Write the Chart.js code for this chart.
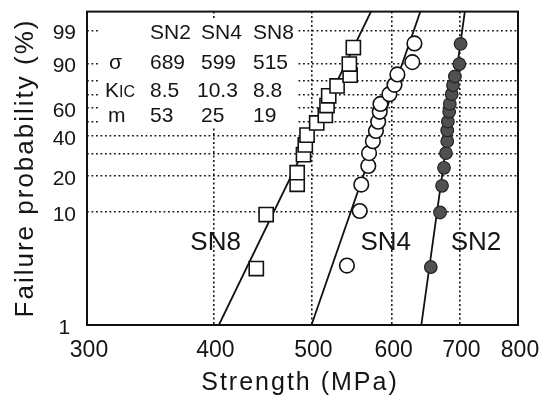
<!DOCTYPE html>
<html><head><meta charset="utf-8">
<script src="https://cdn.jsdelivr.net/npm/chart.js@4.4.1/dist/chart.umd.min.js"></script>
<style>html,body{margin:0;padding:0;background:#fff;}</style>
</head><body>
<canvas id="c" width="545" height="398"></canvas>
<script>
// ---------- data ----------
const seriesNames = ['SN2', 'SN4', 'SN8'];
const sn2Strength = [656, 670, 673, 676, 679, 681, 681, 682, 684, 685, 688, 690, 693, 700, 702];
const sn2Prob     = [3.3, 9.9, 16.6, 23.2, 30.1, 36.8, 43.7, 49.8, 57.1, 63.1, 70.5, 77.0, 82.9, 89.8, 96.9];
const sn4Strength = [542, 558, 560, 569, 570, 575, 579, 582, 584, 585, 597, 604, 608, 629, 632];
const sn4Prob     = [3.4, 10.2, 17.0, 24.0, 30.1, 36.8, 43.3, 49.8, 57.1, 63.1, 70.5, 77.3, 84.1, 90.7, 97.0];
const sn8Strength = [441, 451, 484, 484, 491, 493, 495, 506, 516, 518, 520, 530, 546, 545, 550];
const sn8Prob     = [3.2, 9.5, 17.1, 21.2, 29.3, 34.6, 40.6, 48.9, 54.4, 61.8, 69.3, 76.5, 83.7, 89.8, 96.0];
// Weibull fit lines: strength at the two probabilities in fitProb
const fitProb  = [1, 99.9];
const sn2Fit   = [642, 709];
const sn4Fit   = [500, 641];
const sn8Fit   = [405, 573];
// axis ticks
const strengthTicks = [300, 400, 500, 600, 700, 800];
const probTicks  = [1, 10, 20, 30, 40, 50, 60, 70, 80, 90, 99];
const probLabels = ['1', '10', '20', '', '40', '', '60', '', '', '90', '99'];
// property table
const tableHead = ['SN2', 'SN4', 'SN8'];
const sigmaVals = ['689', '599', '515'];
const kicVals   = ['8.5', '10.3', '8.8'];
const mVals     = ['53', '25', '19'];

// ---------- helpers ----------
const W = p => Math.log(-Math.log(1 - p / 100));
const pts = (xs, ps) => xs.map((x, i) => ({x: x, y: W(ps[i])}));
const FONT = '"Liberation Sans", Arial, Helvetica, sans-serif';
const INK = '#151515';

const gridCommon = {color: '#1a1a1a', lineWidth: 1.6, drawTicks: false};
const borderCommon = {display: false, dash: [1.8, 2.7]};

const deco = {
  id: 'deco',
  beforeDatasetsDraw(chart) {
    const c = chart.ctx;
    c.save();
    c.fillStyle = '#fff';
    c.fillRect(99, 20, 198, 106);
    c.fillStyle = INK;
    c.textBaseline = 'alphabetic';
    c.textAlign = 'left';
    c.font = '21px ' + FONT;
    const colX = [150, 201, 253];
    const rowY = [39, 69, 97, 122];
    tableHead.forEach((t, i) => c.fillText(t, colX[i], rowY[0]));
    sigmaVals.forEach((t, i) => c.fillText(t, colX[i] - (t.length > 3 ? 4 : 0), rowY[1]));
    kicVals.forEach((t, i) => c.fillText(t, colX[i] - (t.length > 3 ? 4 : 0), rowY[2]));
    mVals.forEach((t, i) => c.fillText(t, colX[i], rowY[3]));
    c.fillText('\u03c3', 109, rowY[1]);
    c.fillText('K', 105, rowY[2]);
    const kw = c.measureText('K').width;
    c.font = '16px ' + FONT;
    c.fillText('IC', 105 + kw, rowY[2]);
    c.font = '21px ' + FONT;
    c.fillText('m', 108, rowY[3]);
    c.restore();
  },
  afterDraw(chart) {
    const c = chart.ctx, a = chart.chartArea;
    const xs = chart.scales.x, ys = chart.scales.y;
    c.save();
    // frame
    c.strokeStyle = '#111';
    c.lineWidth = 2;
    c.strokeRect(a.left, a.top, a.right - a.left, a.bottom - a.top);
    // series labels
    c.fillStyle = INK;
    c.font = '26px ' + FONT;
    c.textAlign = 'center';
    c.textBaseline = 'middle';
    const labelAt = {SN8: [402, 5.35], SN4: [592, 5.35], SN2: [727, 5.35]};
    seriesNames.forEach(n => {
      c.fillText(n, xs.getPixelForValue(labelAt[n][0]), ys.getPixelForValue(W(labelAt[n][1])));
    });
    // axis titles
    c.textBaseline = 'alphabetic';
    try { c.letterSpacing = '2px'; } catch (e) {}
    c.font = '25px ' + FONT;
    c.fillText('Strength (MPa)', 300, 390);
    c.translate(33, 168);
    c.rotate(-Math.PI / 2);
    c.font = '26px ' + FONT;
    c.fillText('Failure probability (%)', 0, 0);
    c.restore();
  }
};

new Chart(document.getElementById('c').getContext('2d'), {
  type: 'scatter',
  data: {
    datasets: [
      {label: 'SN8', data: pts(sn8Strength, sn8Prob), pointStyle: 'rect', pointRadius: 10,
       borderColor: '#111', backgroundColor: '#fff', borderWidth: 1.6, order: 0},
      {label: 'SN4', data: pts(sn4Strength, sn4Prob), pointStyle: 'circle', pointRadius: 7.3,
       borderColor: '#111', backgroundColor: '#fff', borderWidth: 1.6, order: 0},
      {label: 'SN2', data: pts(sn2Strength, sn2Prob), pointStyle: 'circle', pointRadius: 6.3,
       borderColor: '#222', backgroundColor: '#505050', borderWidth: 1.2, order: 0},
      {label: 'SN8 fit', data: pts(sn8Fit, fitProb), showLine: true, pointRadius: 0,
       borderColor: '#111', borderWidth: 1.8, order: 1},
      {label: 'SN4 fit', data: pts(sn4Fit, fitProb), showLine: true, pointRadius: 0,
       borderColor: '#111', borderWidth: 1.8, order: 1},
      {label: 'SN2 fit', data: pts(sn2Fit, fitProb), showLine: true, pointRadius: 0,
       borderColor: '#111', borderWidth: 1.8, order: 1}
    ]
  },
  options: {
    responsive: false,
    animation: false,
    devicePixelRatio: 1,
    layout: {padding: {left: 0, top: 7, right: 27, bottom: 0}},
    plugins: {legend: {display: false}, tooltip: {enabled: false}},
    scales: {
      x: {
        type: 'logarithmic', min: 300, max: 800,
        afterBuildTicks: s => { s.ticks = strengthTicks.map(v => ({value: v})); },
        afterFit: s => { s.height = 73; s.paddingLeft = 0; s.paddingRight = 0; },
        ticks: {autoSkip: false, maxRotation: 0, padding: 12, labelOffset: 2,
                color: INK, font: {family: FONT, size: 23}, callback: v => String(v)},
        grid: gridCommon, border: borderCommon
      },
      y: {
        type: 'linear', min: W(1), max: 1.916,
        afterBuildTicks: s => { s.ticks = probTicks.map(p => ({value: W(p)})); },
        afterFit: s => { s.width = 87; s.paddingTop = 0; s.paddingBottom = 0; },
        ticks: {autoSkip: false, crossAlign: 'center', padding: 11, labelOffset: 3,
                color: INK, font: {family: FONT, size: 21}, callback: (v, i) => probLabels[i]},
        grid: gridCommon, border: borderCommon
      }
    }
  },
  plugins: [deco]
});
</script>
</body></html>
